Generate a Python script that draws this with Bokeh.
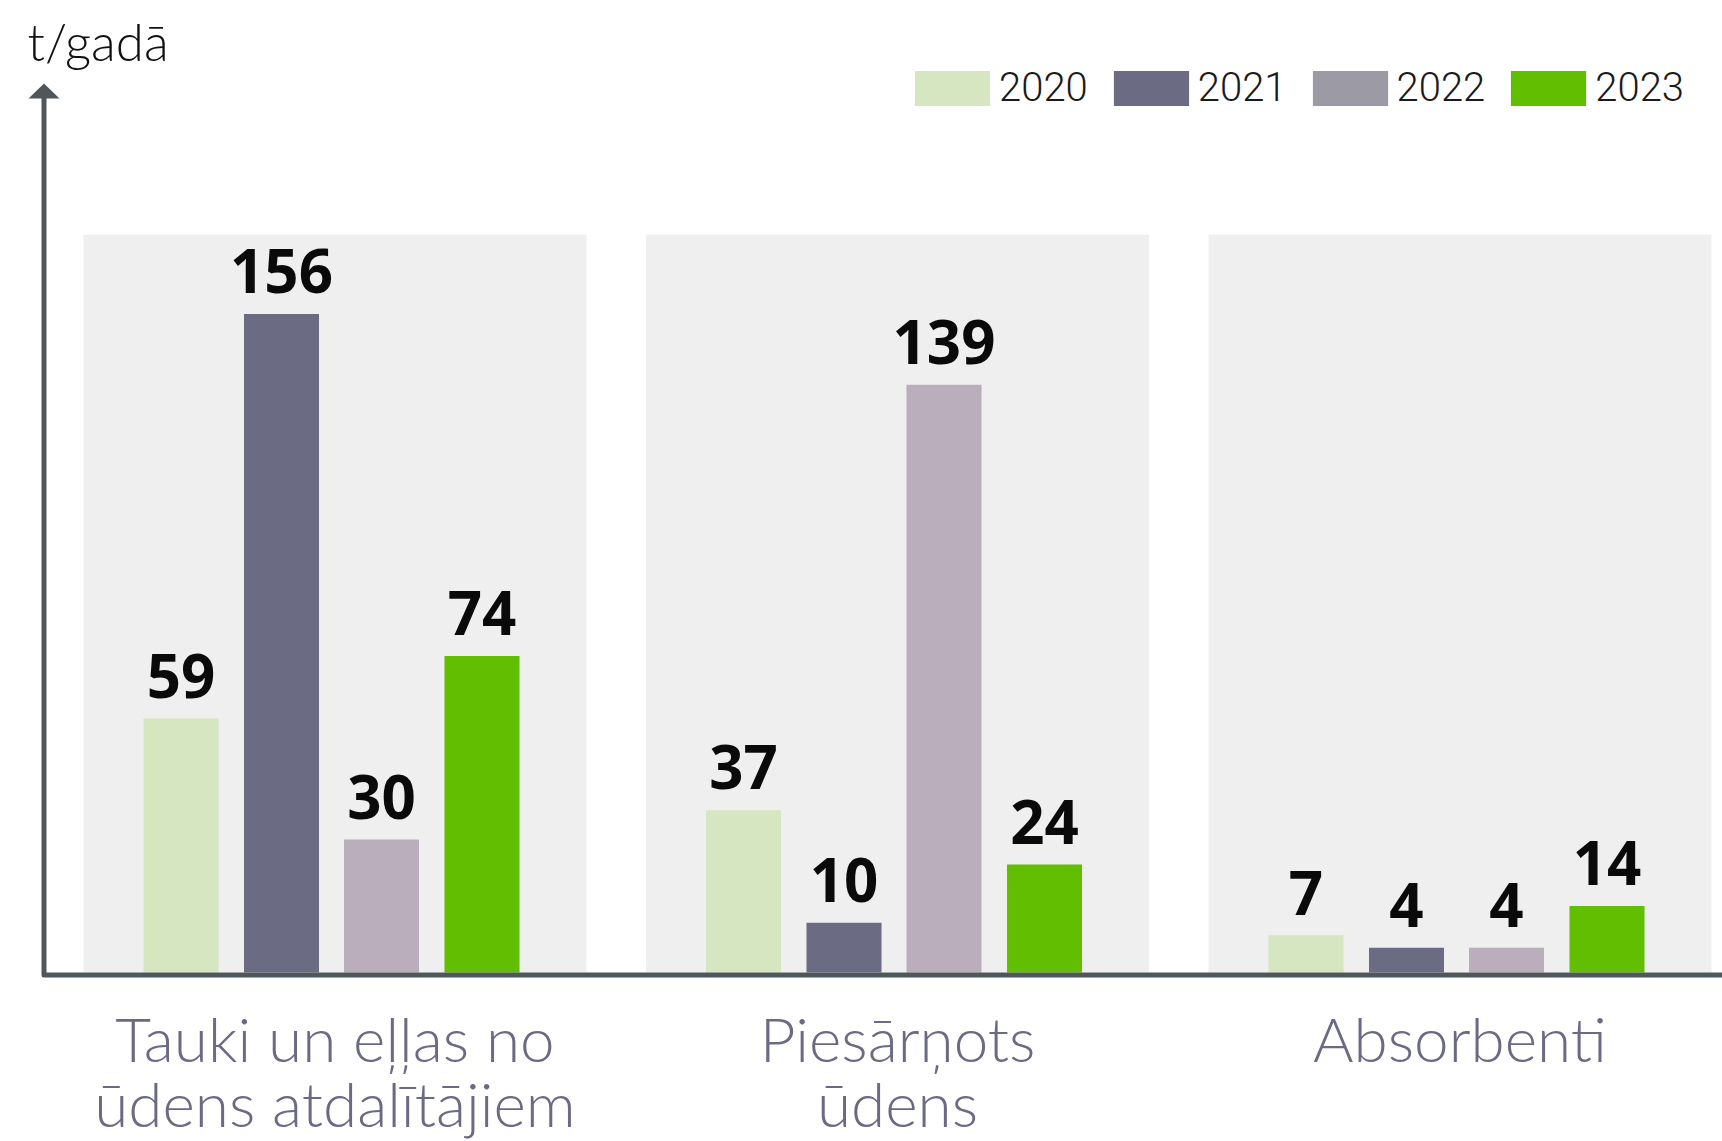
from bokeh.plotting import figure
from bokeh.models import Range1d, Legend, LegendItem
from bokeh.core.properties import value
from bokeh.embed import file_html
from bokeh.resources import INLINE

# ---------------- data ----------------
categories = ["Tauki un eļļas no\nūdens atdalītājiem", "Piesārņots\nūdens", "Absorbenti"]
years = ["2020", "2021", "2022", "2023"]
v2020 = [59, 37, 7]
v2021 = [156, 10, 4]
v2022 = [30, 139, 4]
v2023 = [74, 24, 14]
series = [v2020, v2021, v2022, v2023]
bar_colors = ["#d5e6c0", "#6b6b83", "#baaebc", "#62be00"]
legend_colors = ["#d5e6c0", "#6b6b83", "#9c9ba5", "#62be00"]
unit_label = "t/gadā"
panel_top_value = 175

# ---------------- geometry (pixels -> data) ----------------
W, H = 1722, 1141
X0_PAGE = 332.5      # page x of first group centre
PX_X = 562.5         # px per group
Y0_PAGE = 964.0      # page y of value 0
PX_Y = 4.17          # px per unit
BASELINE_FIX = 0.38  # the svg text sits this many em lower than asked

def dx(px):
    return px / PX_X

def dy(px):
    return px / PX_Y

def xp(page_x):
    return (page_x - X0_PAGE) / PX_X

def yp(page_y):
    return (Y0_PAGE - page_y) / PX_Y

x_start, x_end = xp(0), xp(W)
y_start, y_end = yp(H), yp(0)

p = figure(width=W, height=H, output_backend="svg", toolbar_location=None,
           x_range=Range1d(x_start, x_end), y_range=Range1d(y_start, y_end),
           x_axis_type=None, y_axis_type=None, min_border=0, title=None)
p.outline_line_color = None
p.background_fill_color = "white"
p.border_fill_color = "white"

base = -dy(8.0)          # bars start at the drawn baseline
idx = list(range(len(categories)))

# background panels
PANEL_SHIFT = dx(2.0)
PANEL_HALF = dx(251.5)
p.quad(left=[i + PANEL_SHIFT - PANEL_HALF for i in idx],
       right=[i + PANEL_SHIFT + PANEL_HALF for i in idx],
       bottom=[base] * len(idx), top=[panel_top_value] * len(idx),
       fill_color="#efefef", line_color=None)

# bars + value labels
BAR_SHIFT = dx(-1.5)
offsets = [dx(-150.5), dx(-50.0), dx(50.0), dx(150.5)]
BAR_W = dx(75)
VAL_FS = 60
for j, vals in enumerate(series):
    xs = [i + offsets[j] + BAR_SHIFT for i in idx]
    p.vbar(x=xs, top=vals, bottom=base, width=BAR_W,
           fill_color=bar_colors[j], line_color=None)
    p.text(x=xs, y=[v + dy(20 + BASELINE_FIX * VAL_FS) for v in vals],
           text=[str(v) for v in vals],
           text_align="center", text_baseline="alphabetic",
           text_font=value("Open Sans"), text_font_style="bold",
           text_font_size=f"{VAL_FS}px", text_color="#0a0a0a")

# axes (L shaped, with arrow)
axis_x = xp(43.5)
axis_y = yp(974.5)
head_base = yp(98)
head_tip = yp(83)
axis_color = "#50575b"
p.line(x=[axis_x, axis_x, x_end + 0.1], y=[head_base + 0.5, axis_y, axis_y],
       line_width=5, line_color=axis_color, line_join="round")
p.patch(x=[axis_x - dx(15.5), axis_x, axis_x + dx(15.5)],
        y=[head_base, head_tip, head_base],
        fill_color=axis_color, line_color=None)

# unit label
UNIT_FS = 51
p.text(x=[xp(27)], y=[yp(60 - BASELINE_FIX * UNIT_FS)], text=[unit_label],
       text_align="left", text_baseline="alphabetic",
       text_font=value("Lato Light, Lato"), text_font_size=f"{UNIT_FS}px",
       text_color="#111111")

# category labels (two lines, centred on panels)
CAT_FS = 62
cat_color = "#6b6a85"
line1 = [c.split("\n")[0] for c in categories]
line2 = [c.split("\n")[1] if "\n" in c else "" for c in categories]
cx = [i + PANEL_SHIFT for i in idx]
for txt, base_y in ((line1, 1061), (line2, 1126)):
    p.text(x=cx, y=[yp(base_y - BASELINE_FIX * CAT_FS)] * len(idx), text=txt,
           text_align="center", text_baseline="alphabetic",
           text_font=value("Lato Light, Lato"), text_font_size=f"{CAT_FS}px",
           text_color=cat_color)

# legend (swatch renderers placed outside the visible range)
dummies = [p.vbar(x=[x_start - 1], top=[0], bottom=[0], width=0.1,
                  fill_color=c, line_color=None) for c in legend_colors]
legend = Legend(items=[LegendItem(label=y, renderers=[r]) for y, r in zip(years, dummies)],
                orientation="horizontal", location=(905, 1030),
                glyph_width=94, glyph_height=44, label_height=44, label_standoff=0,
                spacing=16, padding=0, margin=0, border_line_color=None,
                background_fill_alpha=0, label_text_font="Roboto Light, Roboto",
                label_text_font_size="40px", label_text_color="#1a1a1a")
p.add_layout(legend)

open("out.html", "w").write(file_html(p, INLINE))
